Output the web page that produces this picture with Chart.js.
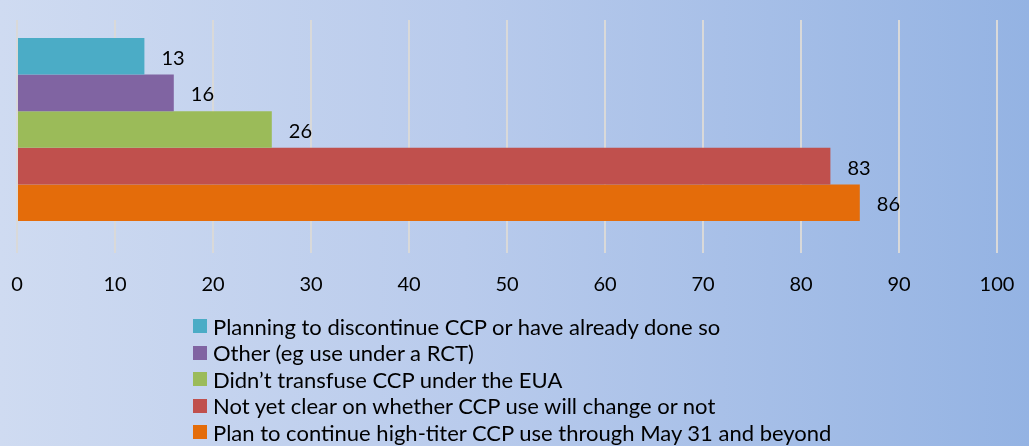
<!DOCTYPE html>
<html>
<head>
<meta charset="utf-8">
<script src="https://cdn.jsdelivr.net/npm/chart.js@4.4.1/dist/chart.umd.min.js"></script>
<style>
    html, body { margin: 0; padding: 0; }
    body {
        width: 1029px; height: 446px; overflow: hidden; position: relative;
        background: linear-gradient(to right, #cfdbf1 0%, #b9cbec 45%, #94b3e3 100%);
        font-family: "Lato", "Open Sans", sans-serif;
    }
    #wrap { position: absolute; left: 0; top: 0; width: 1029px; height: 317px; }
    #legend { position: absolute; left: 193px; top: 313px; }
    #legend div { display: flex; align-items: center; height: 26.5px; font-size: 22px; color: #000; white-space: nowrap; }
    #legend span.box { width: 14px; height: 14px; margin-right: 6px; display: inline-block; }
</style>
</head>
<body>
<div id="wrap"><canvas id="myChart"></canvas></div>
<div id="legend"></div>
<script>
const categories = [''];
const seriesNames = [
    'Planning to discontinue CCP or have already done so',
    'Other (eg use under a RCT)',
    'Didn\u2019t transfuse CCP under the EUA',
    'Not yet clear on whether CCP use will change or not',
    'Plan to continue high-titer CCP use through May 31 and beyond'
];
const seriesValues = [13, 16, 26, 83, 86];
const seriesColors = ['#4bacc6', '#8064a2', '#9bbb59', '#c0504d', '#e46c0a'];
const tickMin = 0, tickMax = 100, tickStep = 10;

// value labels at the end of each bar
const valueLabels = {
    id: 'valueLabels',
    afterDatasetsDraw(chart) {
        const ctx = chart.ctx;
        ctx.save();
        ctx.font = '20px Lato, "Open Sans", sans-serif';
        ctx.fillStyle = '#000';
        ctx.textBaseline = 'middle';
        ctx.textAlign = 'left';
        chart.data.datasets.forEach((ds, i) => {
            chart.getDatasetMeta(i).data.forEach((bar, j) => {
                ctx.fillText(ds.data[j], bar.x + 17, bar.y + 2);
            });
        });
        ctx.restore();
    }
};

window.addEventListener('load', () => {
    const datasets = seriesNames.map((name, i) => ({
        label: name,
        data: [seriesValues[i]],
        backgroundColor: seriesColors[i],
        borderWidth: 0,
        categoryPercentage: 0.836,
        barPercentage: 1
    }));

    const myChart = new Chart(document.getElementById('myChart'), {
        type: 'bar',
        data: { labels: categories, datasets: datasets },
        plugins: [valueLabels],
        options: {
            indexAxis: 'y',
            responsive: true,
            maintainAspectRatio: false,
            animation: false,
            layout: { padding: { left: 0, right: 0, top: 20, bottom: 0 } },
            plugins: {
                legend: { display: false },
                tooltip: { enabled: false }
            },
            scales: {
                x: {
                    min: tickMin,
                    max: tickMax,
                    afterFit: (scale) => {
                        scale.paddingLeft = 17;
                        scale.paddingRight = 32;
                    },
                    ticks: {
                        stepSize: tickStep,
                        color: '#000',
                        padding: 20,
                        font: { family: 'Lato, "Open Sans", sans-serif', size: 20 }
                    },
                    grid: {
                        color: '#d9d9d9',
                        lineWidth: 2,
                        drawTicks: true,
                        tickLength: 14,
                        tickColor: '#d9d9d9',
                        tickWidth: 2
                    },
                    border: { display: false }
                },
                y: {
                    display: false
                }
            }
        }
    });

    // legend as a vertical list under the chart
    const legend = document.getElementById('legend');
    myChart.data.datasets.forEach(ds => {
        const row = document.createElement('div');
        const box = document.createElement('span');
        box.className = 'box';
        box.style.background = ds.backgroundColor;
        row.appendChild(box);
        row.appendChild(document.createTextNode(ds.label));
        legend.appendChild(row);
    });
});
</script>
</body>
</html>
